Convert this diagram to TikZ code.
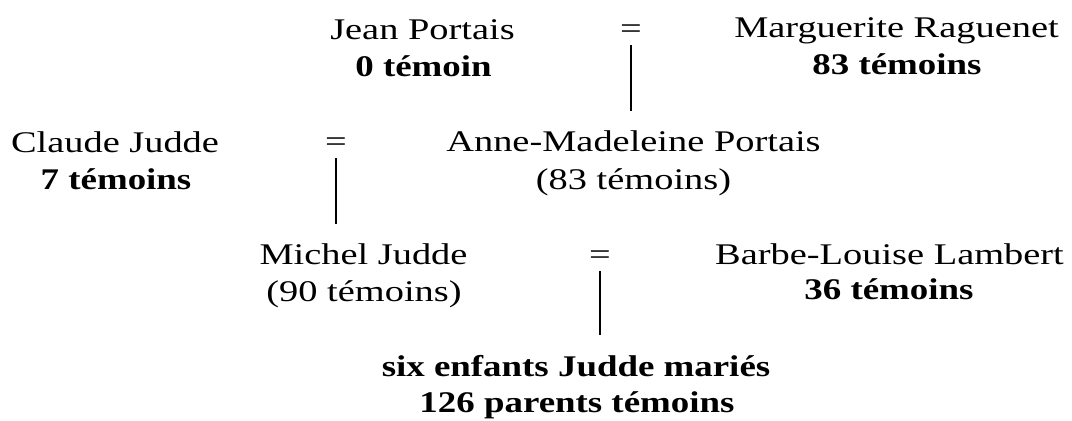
\documentclass[tikz,border=0pt]{standalone}
\usepackage{fontspec}
\setmainfont{Liberation Serif}[FakeStretch=1.28, BoldFeatures={FakeStretch=1.23}]

\tikzset{
	person/.style={anchor=base, inner sep=0pt, font=\fontsize{15}{19}\selectfont},
	tally/.style={person, font=\fontsize{15}{19}\selectfont\bfseries},
	marr/.style={anchor=base, inner sep=0pt, font=\fontsize{15}{19}\selectfont},
	link/.style={line width=0.7pt, shorten <=3pt, shorten >=10pt}
}

\begin{document}
\begin{tikzpicture}[x=0.5pt, y=-0.5pt]
			%%%%% START %%%%%
			\useasboundingbox (0, 0) rectangle (1072, 421);
			
			\node[person] (jean) at (422.5, 40) {Jean Portais};
			\node[tally] (jeanT) at (423.5, 77) {0 témoin};
			\node[marr] (eqA) at (631, 39) {=};
			\node[person] (marg) at (896.5, 38) {Marguerite Raguenet};
			\node[tally] (margT) at (897, 75) {83 témoins};
			
			\node[person] (claude) at (115, 153) {Claude Judde};
			\node[tally] (claudeT) at (116, 190) {7 témoins};
			\node[marr] (eqB) at (336, 152) {=};
			\node[person] (anne) at (633.5, 152) {Anne-Madeleine Portais};
			\node[person] (anneT) at (633.5, 190) {(83 témoins)};
			
			\node[person] (michel) at (363.5, 265) {Michel Judde};
			\node[person] (michelT) at (364, 302) {(90 témoins)};
			\node[marr] (eqC) at (600, 265) {=};
			\node[person] (barbe) at (889.5, 265) {Barbe-Louise Lambert};
			\node[tally] (barbeT) at (889, 300) {36 témoins};
			
			\node[tally] (enfants) at (576, 377) {six enfants Judde mariés};
			\node[tally] (enfantsT) at (577, 413) {126 parents témoins};
			
			\draw[link] (eqA.south) -- (eqA.south |- anne.north);
			\draw[link] (eqB.south) -- (eqB.south |- michel.north);
			\draw[link] (eqC.south) -- (eqC.south |- enfants.north);
			%%%%% END %%%%%
\end{tikzpicture}
\end{document}
